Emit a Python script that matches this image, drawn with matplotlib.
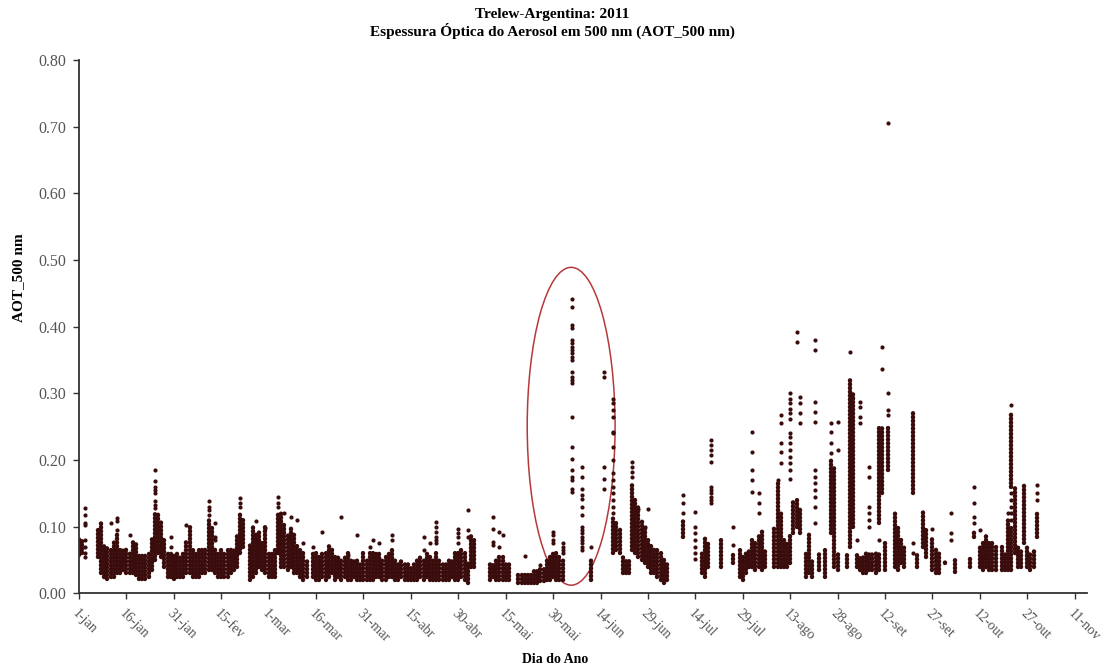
import matplotlib
matplotlib.use('Agg')
import matplotlib.pyplot as plt
from matplotlib.patches import Ellipse

# dados: dia do ano (0 = 1-jan), AOT minima e maxima da coluna densa
colunas_jan_mar = [
    (0, 0.058, 0.085), (1, 0.06, 0.08), (6, 0.055, 0.10), (7, 0.03, 0.105), (8, 0.025, 0.075),
    (9, 0.022, 0.07), (10, 0.025, 0.07), (11, 0.025, 0.08), (12, 0.03, 0.09), (13, 0.03, 0.065),
    (14, 0.035, 0.065), (15, 0.03, 0.07), (16, 0.03, 0.06), (17, 0.03, 0.08), (18, 0.028, 0.075),
    (19, 0.022, 0.06), (20, 0.022, 0.06), (21, 0.022, 0.06), (22, 0.025, 0.06), (23, 0.035, 0.085),
    (24, 0.05, 0.12), (25, 0.06, 0.12), (26, 0.055, 0.11), (27, 0.04, 0.08), (28, 0.025, 0.06),
    (29, 0.025, 0.06), (30, 0.022, 0.06), (31, 0.025, 0.06), (32, 0.025, 0.055), (33, 0.025, 0.06),
    (34, 0.03, 0.08), (35, 0.03, 0.10), (36, 0.025, 0.07), (37, 0.025, 0.06), (38, 0.025, 0.065),
    (39, 0.03, 0.065), (40, 0.03, 0.07), (41, 0.035, 0.11), (42, 0.035, 0.10), (43, 0.03, 0.07),
    (44, 0.025, 0.06), (45, 0.025, 0.065), (46, 0.025, 0.06), (47, 0.025, 0.065), (48, 0.03, 0.07),
    (49, 0.035, 0.065), (50, 0.04, 0.09), (51, 0.06, 0.12), (52, 0.07, 0.11), (54, 0.02, 0.075),
    (55, 0.025, 0.10), (56, 0.03, 0.09), (57, 0.04, 0.095), (58, 0.035, 0.08), (59, 0.03, 0.10),
    (60, 0.025, 0.06), (61, 0.025, 0.06), (62, 0.025, 0.065), (63, 0.06, 0.12), (64, 0.04, 0.12),
    (65, 0.04, 0.105), (66, 0.035, 0.09), (67, 0.04, 0.10), (68, 0.03, 0.09), (69, 0.03, 0.075),
    (70, 0.025, 0.07), (71, 0.02, 0.06), (72, 0.025, 0.05), (74, 0.025, 0.06), (75, 0.02, 0.06),
    (76, 0.02, 0.055), (77, 0.025, 0.06), (78, 0.02, 0.06), (79, 0.025, 0.075),
]
colunas_mar_mai = [
    (80, 0.03, 0.07), (81, 0.02, 0.055), (82, 0.025, 0.055), (83, 0.02, 0.05), (84, 0.025, 0.055),
    (85, 0.02, 0.06), (86, 0.02, 0.05), (87, 0.025, 0.05), (88, 0.02, 0.05), (89, 0.02, 0.045),
    (90, 0.02, 0.06), (91, 0.02, 0.05), (92, 0.02, 0.06), (93, 0.02, 0.06), (94, 0.025, 0.06),
    (95, 0.025, 0.06), (96, 0.02, 0.05), (97, 0.02, 0.055), (98, 0.025, 0.06), (99, 0.025, 0.065),
    (100, 0.02, 0.05), (101, 0.02, 0.045), (102, 0.025, 0.05), (103, 0.02, 0.045), (104, 0.02, 0.045),
    (105, 0.02, 0.04), (106, 0.02, 0.045), (107, 0.02, 0.05), (108, 0.025, 0.055), (109, 0.02, 0.05),
    (110, 0.025, 0.06), (111, 0.02, 0.055), (112, 0.02, 0.05), (113, 0.02, 0.065), (114, 0.02, 0.05),
    (115, 0.02, 0.045), (116, 0.02, 0.045), (117, 0.02, 0.05), (118, 0.025, 0.05), (119, 0.02, 0.06),
    (120, 0.02, 0.06), (121, 0.025, 0.065), (122, 0.02, 0.06), (123, 0.015, 0.045), (124, 0.04, 0.09),
    (125, 0.04, 0.08), (130, 0.02, 0.045), (131, 0.025, 0.045), (132, 0.02, 0.05), (133, 0.02, 0.055),
    (134, 0.02, 0.055), (135, 0.02, 0.045), (136, 0.02, 0.045), (139, 0.015, 0.03), (140, 0.015, 0.028),
    (141, 0.015, 0.03), (142, 0.015, 0.03), (143, 0.015, 0.03), (144, 0.015, 0.035), (145, 0.015, 0.035),
    (146, 0.018, 0.04), (147, 0.018, 0.04), (148, 0.02, 0.05), (149, 0.02, 0.055), (150, 0.025, 0.06),
    (151, 0.02, 0.06), (152, 0.02, 0.055), (153, 0.02, 0.05),
]
colunas_jun_jul = [
    (162, 0.02, 0.05), (169, 0.06, 0.115), (170, 0.065, 0.11), (171, 0.06, 0.10), (172, 0.03, 0.055),
    (173, 0.03, 0.05), (174, 0.03, 0.05), (175, 0.065, 0.165), (176, 0.06, 0.14), (177, 0.055, 0.13),
    (178, 0.05, 0.11), (179, 0.045, 0.10), (180, 0.04, 0.08), (181, 0.03, 0.075), (182, 0.03, 0.07),
    (183, 0.025, 0.065), (184, 0.02, 0.06), (185, 0.015, 0.05), (186, 0.02, 0.045), (191, 0.085, 0.11),
    (197, 0.03, 0.06), (198, 0.025, 0.085), (199, 0.04, 0.075), (203, 0.04, 0.08), (207, 0.045, 0.06),
    (209, 0.025, 0.07), (210, 0.02, 0.055), (211, 0.03, 0.06), (212, 0.04, 0.065),
]
colunas_ago_out = [
    (213, 0.04, 0.085), (214, 0.035, 0.075), (215, 0.04, 0.09), (216, 0.035, 0.095), (217, 0.04, 0.065),
    (220, 0.04, 0.10), (221, 0.04, 0.165), (222, 0.04, 0.12), (223, 0.04, 0.08), (224, 0.04, 0.075),
    (225, 0.045, 0.09), (226, 0.09, 0.14), (227, 0.10, 0.14), (228, 0.09, 0.13), (230, 0.025, 0.06),
    (231, 0.03, 0.09), (232, 0.025, 0.05), (234, 0.035, 0.06), (236, 0.025, 0.07), (238, 0.09, 0.20),
    (239, 0.04, 0.19), (240, 0.035, 0.06), (243, 0.04, 0.06), (244, 0.07, 0.32), (245, 0.10, 0.30),
    (246, 0.04, 0.06), (247, 0.035, 0.055), (248, 0.03, 0.055), (249, 0.03, 0.06), (250, 0.035, 0.06),
    (251, 0.035, 0.06), (252, 0.03, 0.06), (253, 0.035, 0.06), (253, 0.105, 0.25), (254, 0.15, 0.25),
    (255, 0.035, 0.08), (256, 0.185, 0.25), (258, 0.04, 0.12), (259, 0.035, 0.10), (260, 0.045, 0.08),
    (261, 0.04, 0.07), (264, 0.15, 0.275), (265, 0.04, 0.06), (267, 0.07, 0.125), (268, 0.055, 0.10),
    (270, 0.035, 0.085), (271, 0.03, 0.07), (272, 0.03, 0.06), (274, 0.045, 0.05), (277, 0.032, 0.055),
    (282, 0.04, 0.055), (283, 0.085, 0.095), (285, 0.04, 0.07), (286, 0.035, 0.075), (287, 0.04, 0.09),
    (288, 0.035, 0.075), (289, 0.035, 0.08), (290, 0.035, 0.07), (292, 0.035, 0.07), (293, 0.035, 0.06),
    (294, 0.035, 0.11), (295, 0.035, 0.10), (295, 0.16, 0.27), (296, 0.06, 0.16), (297, 0.04, 0.07),
    (298, 0.04, 0.065), (299, 0.075, 0.162), (300, 0.04, 0.07), (301, 0.035, 0.06), (302, 0.04, 0.065),
    (303, 0.085, 0.12),
]

# pontos isolados (dia: valores de AOT)
pontos = {
    2: [0.128, 0.118, 0.105, 0.103, 0.08, 0.07, 0.06, 0.055],
    10: [0.105], 12: [0.113, 0.108, 0.095], 16: [0.088],
    24: [0.185, 0.168, 0.16, 0.155, 0.15, 0.138, 0.133, 0.128],
    29: [0.085, 0.07], 34: [0.103], 41: [0.138, 0.13, 0.125, 0.118],
    43: [0.105, 0.085, 0.08], 51: [0.143, 0.135, 0.13], 56: [0.108], 59: [0.098],
    63: [0.145, 0.135, 0.13], 65: [0.12], 67: [0.115], 69: [0.11], 71: [0.075],
    74: [0.07], 77: [0.092], 83: [0.115], 85: [0.057], 88: [0.088], 92: [0.07],
    93: [0.08], 95: [0.075], 99: [0.087, 0.08], 109: [0.085, 0.065], 111: [0.075],
    113: [0.107, 0.10, 0.092, 0.085, 0.08, 0.075], 120: [0.097, 0.09, 0.085, 0.075],
    123: [0.125, 0.095, 0.085], 131: [0.115, 0.097, 0.077, 0.072], 133: [0.092, 0.07],
    134: [0.088], 141: [0.056], 146: [0.043], 150: [0.092, 0.088, 0.08, 0.075],
    153: [0.075, 0.07, 0.065, 0.06],
    156: [0.442, 0.43, 0.402, 0.398, 0.38, 0.375, 0.37, 0.365, 0.36, 0.355, 0.35, 0.332,
          0.325, 0.32, 0.315, 0.265, 0.22, 0.202, 0.185, 0.175, 0.17, 0.157, 0.152],
    159: [0.19, 0.175, 0.157, 0.147, 0.142, 0.13, 0.118, 0.10, 0.095, 0.09, 0.085, 0.08,
          0.075, 0.07, 0.065],
    162: [0.07], 166: [0.332, 0.325, 0.19, 0.172, 0.157],
    169: [0.292, 0.285, 0.275, 0.265, 0.242, 0.24, 0.22, 0.20, 0.18, 0.17, 0.16, 0.15,
          0.14, 0.13, 0.12],
    175: [0.197, 0.19, 0.182, 0.175], 177: [0.127], 179: [0.10], 180: [0.127],
    191: [0.147, 0.135, 0.12], 195: [0.122, 0.10, 0.09, 0.08, 0.07, 0.06, 0.052],
    200: [0.23, 0.222, 0.215, 0.207, 0.197, 0.16, 0.155, 0.15, 0.145, 0.14, 0.135],
    207: [0.10, 0.072], 213: [0.242, 0.212, 0.185, 0.17, 0.152],
    215: [0.15, 0.135, 0.12], 221: [0.17], 222: [0.267, 0.255, 0.225, 0.212, 0.195],
    225: [0.30, 0.292, 0.285, 0.277, 0.27, 0.262, 0.24, 0.235, 0.225, 0.215, 0.205,
          0.195, 0.185, 0.172],
    227: [0.392, 0.377], 228: [0.295, 0.285, 0.27, 0.255],
    233: [0.38, 0.365, 0.287, 0.272, 0.257, 0.185, 0.175, 0.165, 0.155, 0.145, 0.13, 0.105],
    238: [0.255, 0.242, 0.225, 0.21], 240: [0.257, 0.215], 244: [0.362],
    246: [0.08], 247: [0.287, 0.28, 0.265, 0.255],
    250: [0.19, 0.175, 0.13, 0.12, 0.11, 0.10], 253: [0.08], 254: [0.37, 0.337],
    256: [0.705, 0.30, 0.275, 0.267], 264: [0.06, 0.075], 270: [0.097],
    276: [0.12, 0.09, 0.08], 283: [0.16, 0.135, 0.115, 0.105], 285: [0.095],
    294: [0.12], 295: [0.282, 0.15, 0.14, 0.13, 0.12, 0.11], 303: [0.162, 0.15, 0.14],
}

rotulos_x = ['1-jan', '16-jan', '31-jan', '15-fev', '1-mar', '16-mar', '31-mar', '15-abr',
             '30-abr', '15-mai', '30-mai', '14-jun', '29-jun', '14-jul', '29-jul', '13-ago',
             '28-ago', '12-set', '27-set', '12-out', '27-out', '11-nov']
ticks_y = [0.0, 0.1, 0.2, 0.3, 0.4, 0.5, 0.6, 0.7, 0.8]

cor = '#3a0c0c'
serif = ['Liberation Serif', 'DejaVu Serif']

fig = plt.figure(figsize=(11.05, 6.68), dpi=100)
ax = fig.add_axes([0.0715, 0.112, 0.9125, 0.798])

# colunas densas desenhadas como fileiras de pontos quase encostados
for tabela in [colunas_jan_mar, colunas_mar_mai, colunas_jun_jul, colunas_ago_out]:
    d = [t[0] for t in tabela]
    lo = [t[1] for t in tabela]
    hi = [t[2] for t in tabela]
    lc = ax.vlines(d, lo, hi, colors=cor, linewidth=3.2, linestyles=[(0, (0.1, 0.75))])
    lc.set_capstyle('round')

xs = []
ys = []
for dia, vals in pontos.items():
    for v in vals:
        xs.append(dia)
        ys.append(v)
ax.plot(xs, ys, 'o', color=cor, markersize=3.0, markeredgewidth=0)

# elipse destacando o evento de maio-junho
ax.add_patch(Ellipse((155.7, 0.2505), 27.8, 0.477, fill=False, edgecolor='#b5393b', linewidth=1.1))

ax.set_xlim(0, 319)
ax.set_ylim(0, 0.8)
ax.set_xticks([15 * i for i in range(len(rotulos_x))])
ax.set_xticklabels(rotulos_x, rotation=-45, ha='left', va='top', rotation_mode='anchor',
                   family=serif, fontsize=10, color='#555555')
ax.set_yticks(ticks_y)
ax.set_yticklabels(['%.2f' % v for v in ticks_y], family=serif, fontsize=11.5, color='#555555')
ax.tick_params(axis='both', direction='out', length=4, width=1, color='#333333')
ax.tick_params(axis='y', pad=5)
ax.tick_params(axis='x', pad=6)
for s in ['top', 'right']:
    ax.spines[s].set_visible(False)
for s in ['left', 'bottom']:
    ax.spines[s].set_color('#333333')
    ax.spines[s].set_linewidth(1.3)

fig.text(0.5, 0.978, 'Trelew-Argentina: 2011', ha='center', va='center',
         family=serif, fontsize=11, fontweight='bold')
fig.text(0.5, 0.954, 'Espessura Óptica do Aerosol em 500 nm (AOT_500 nm)', ha='center',
         va='center', family=serif, fontsize=11, fontweight='bold')
fig.text(0.502, 0.012, 'Dia do Ano', ha='center', va='center', family=serif,
         fontsize=10, fontweight='bold')
fig.text(0.017, 0.585, 'AOT_500 nm', ha='center', va='center', rotation=90,
         family=serif, fontsize=11, fontweight='bold')

fig.savefig('out.png', dpi=100)
